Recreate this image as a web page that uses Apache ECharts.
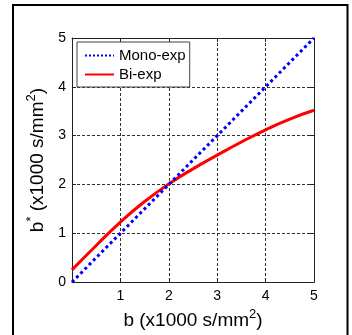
<!DOCTYPE html>
<html>
<head>
<meta charset="utf-8">
<script src="https://cdn.jsdelivr.net/npm/echarts@6/dist/echarts.min.js"></script>
<style>
html,body{margin:0;padding:0;background:#fff;}
#chart{width:352px;height:335px;}
</style>
</head>
<body>
<div id="chart"></div>
<script>
// ---- data ----
var seriesNames = ['Mono-exp', 'Bi-exp'];
var monoX = [0, 5];
var monoY = [0, 5];
var biX = [0, 0.5, 1, 1.5, 2, 2.5, 3, 3.5, 4, 4.5, 5];
var biY = [0.25, 0.75, 1.23, 1.65, 2.01, 2.32, 2.60, 2.87, 3.12, 3.34, 3.52];
var xTickLabels = ['', '1', '2', '3', '4', '5'];
var yTickLabels = ['0', '1', '2', '3', '4', '5'];

function pairs(xs, ys) { return xs.map(function (x, i) { return [x, ys[i]]; }); }

var FONT = 'Liberation Sans, Arial, sans-serif';
var chart = echarts.init(document.getElementById('chart'), null, {renderer: 'canvas'});

var gridLine = {show: true, lineStyle: {color: '#333', width: 1, type: [3, 2]}};
var axisLine = {show: true, onZero: false, lineStyle: {color: '#222', width: 1}};
var tickIn = {show: true, inside: true, length: 4, lineStyle: {color: '#222'}};
var titleRich = {
  a: {fontSize: 19, fontFamily: FONT, color: '#000', verticalAlign: 'bottom'},
  s: {fontSize: 13, fontFamily: FONT, color: '#000', verticalAlign: 'bottom', padding: [0, 0, 9, 0]}
};

chart.setOption({
  animation: false,
  backgroundColor: '#fff',
  textStyle: {fontFamily: FONT},
  graphic: [{
    type: 'rect', silent: true, z: 100,
    shape: {x: 13, y: 5, width: 334.5, height: 345},
    style: {fill: 'none', stroke: '#000', lineWidth: 2}
  }],
  grid: {left: 72, top: 38, width: 242, height: 247, containLabel: false},
  legend: {
    orient: 'vertical', left: 77, top: 42,
    padding: [6, 4, 5, 7],
    itemWidth: 29, itemHeight: 14, itemGap: 4,
    itemStyle: {opacity: 0},
    backgroundColor: '#fff', borderColor: '#444', borderWidth: 1, borderRadius: 0,
    textStyle: {fontFamily: FONT, fontSize: 15, color: '#000'},
    data: seriesNames
  },
  xAxis: [{
    type: 'value', min: 0, max: 5, interval: 1, position: 'bottom',
    axisLine: axisLine, axisTick: tickIn, splitLine: gridLine,
    axisLabel: {color: '#000', fontSize: 14, margin: 7, fontFamily: FONT,
      formatter: function (v) { return xTickLabels[Math.round(v)]; }},
    name: '{a|b (x1000 s/mm}{s|2}{a|)}', nameLocation: 'middle', nameGap: 24,
    nameTextStyle: {rich: titleRich}
  }, {
    type: 'value', min: 0, max: 5, interval: 1, position: 'top',
    axisLine: axisLine, axisTick: tickIn, splitLine: {show: false}, axisLabel: {show: false}
  }],
  yAxis: [{
    type: 'value', min: 0, max: 5, interval: 1, position: 'left',
    axisLine: axisLine, axisTick: tickIn, splitLine: gridLine,
    axisLabel: {color: '#000', fontSize: 14, margin: 6, fontFamily: FONT,
      formatter: function (v) { return yTickLabels[Math.round(v)]; }},
    name: '{a|b}{s|*}{a| (x1000 s/mm}{s|2}{a|)}', nameLocation: 'middle', nameRotate: 90, nameGap: 12,
    nameTextStyle: {rich: titleRich}
  }, {
    type: 'value', min: 0, max: 5, interval: 1, position: 'right',
    axisLine: axisLine, axisTick: tickIn, splitLine: {show: false}, axisLabel: {show: false}
  }],
  series: [{
    name: seriesNames[0], type: 'line', data: pairs(monoX, monoY),
    symbol: 'none', clip: false, z: 3,
    itemStyle: {color: '#0000ff'},
    lineStyle: {color: '#0000ff', width: 3, type: 'dotted'}
  }, {
    name: seriesNames[1], type: 'line', data: pairs(biX, biY),
    symbol: 'none', smooth: true, clip: false, z: 2,
    itemStyle: {color: '#ff0000'},
    lineStyle: {color: '#ff0000', width: 3, type: 'solid'}
  }]
});
</script>
</body>
</html>
